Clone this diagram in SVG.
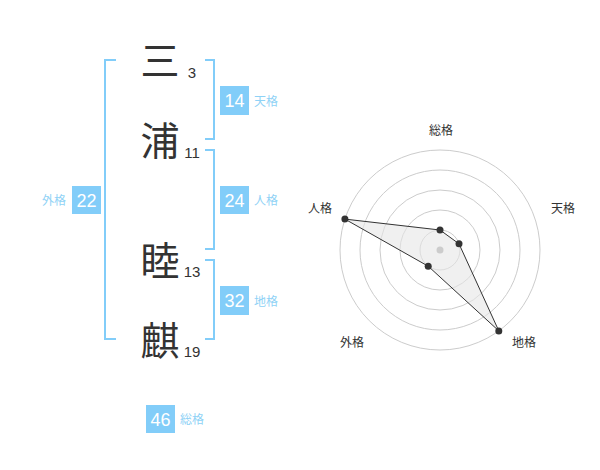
<svg xmlns="http://www.w3.org/2000/svg" width="600" height="470" viewBox="0 0 600 470">
<style>
.br{fill:none;stroke:#82cdf9;stroke-width:2}
.box{fill:#82cdf9}
.num{font-family:"Liberation Sans",Arial,sans-serif;font-size:18px;fill:#fff;text-anchor:middle}
.lbl{font-family:"Noto Sans CJK JP","Noto Sans CJK SC",sans-serif;font-size:12px;fill:#8fd2f6}
.kanji{font-family:"Noto Sans CJK JP","Noto Sans CJK SC",sans-serif;font-size:39px;fill:#333;text-anchor:middle}
.stk{font-family:"Liberation Sans",Arial,sans-serif;font-size:15px;fill:#333;text-anchor:middle}
.ring{fill:none;stroke:#ccc;stroke-width:1}
.axl{font-family:"Noto Sans CJK JP","Noto Sans CJK SC",sans-serif;font-size:12px;fill:#333;text-anchor:middle}
.dot{fill:#333}
</style>
<rect width="600" height="470" fill="#fff"/>
<g id="connectors">
<path class="br" d="M116,60 H105 V339 H116"/>
<path class="br" d="M205,60 H214 V139 H205"/>
<path class="br" d="M205,150 H214 V249 H205"/>
<path class="br" d="M205,260 H214 V339 H205"/>
</g>
<g id="char1"><text class="kanji" x="160" y="74.8">三</text><text class="stk" x="192" y="78">3</text></g>
<g id="char2"><text class="kanji" x="160" y="154.8">浦</text><text class="stk" x="192" y="158">11</text></g>
<g id="char3"><text class="kanji" x="160" y="274.8">睦</text><text class="stk" x="192" y="277">13</text></g>
<g id="char4"><text class="kanji" x="160" y="354.8">麒</text><text class="stk" x="192" y="357">19</text></g>
<g id="tenkaku"><rect class="box" x="220" y="86" width="29" height="29"/><text class="num" x="234.5" y="107">14</text><text class="lbl" x="254" y="105.5">天格</text></g>
<g id="jinkaku"><rect class="box" x="220" y="186" width="29" height="28"/><text class="num" x="234.5" y="206.5">24</text><text class="lbl" x="254" y="205">人格</text></g>
<g id="chikaku"><rect class="box" x="220" y="286" width="29" height="29"/><text class="num" x="234.5" y="307">32</text><text class="lbl" x="254" y="305.5">地格</text></g>
<g id="gaikaku"><rect class="box" x="72" y="186" width="29" height="28"/><text class="num" x="86.5" y="206.5">22</text><text class="lbl" x="66" y="205" text-anchor="end">外格</text></g>
<g id="soukaku"><rect class="box" x="146" y="405" width="29" height="28"/><text class="num" x="160.5" y="425.5">46</text><text class="lbl" x="180" y="424">総格</text></g>
<g id="radar">
<circle class="ring" cx="440" cy="250" r="20"/>
<circle class="ring" cx="440" cy="250" r="40"/>
<circle class="ring" cx="440" cy="250" r="60"/>
<circle class="ring" cx="440" cy="250" r="80"/>
<circle class="ring" cx="440" cy="250" r="100"/>
<polygon points="440,230 459,243.8 498.8,330.9 428.2,266.2 344.9,219.1" fill="#e6e6e6" fill-opacity="0.6" stroke="#333" stroke-width="1"/>
<circle cx="440" cy="250" r="3.5" fill="#ccc"/>
<circle class="dot" cx="440" cy="230" r="3.5"/>
<circle class="dot" cx="459" cy="243.8" r="3.5"/>
<circle class="dot" cx="498.8" cy="330.9" r="3.5"/>
<circle class="dot" cx="428.2" cy="266.2" r="3.5"/>
<circle class="dot" cx="344.9" cy="219.1" r="3.5"/>
<text class="axl" x="441" y="135">総格</text>
<text class="axl" x="563" y="213">天格</text>
<text class="axl" x="320" y="213">人格</text>
<text class="axl" x="352" y="347">外格</text>
<text class="axl" x="524" y="347">地格</text>
</g>
</svg>
